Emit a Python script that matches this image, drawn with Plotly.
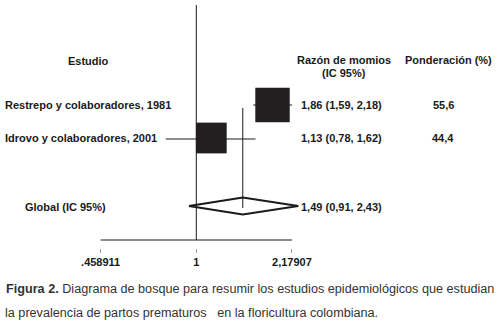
import plotly.graph_objects as go
import math

# ---- data ----
studies = ["Restrepo y colaboradores, 1981", "Idrovo y colaboradores, 2001"]
odds_ratio = [1.86, 1.13]
ci_low = [1.59, 0.78]
ci_high = [2.18, 1.62]
weights = [55.6, 44.4]
overall_label = "Global (IC 95%)"
# printed pooled estimate
overall_text = "1,49 (0,91, 2,43)"
# pooled diamond as drawn in the figure
overall_low = 0.942
overall_or = 1.46
overall_high = 2.295
tick_vals = [0.458911, 1, 2.17907]
tick_text = [".458911", "1", "2,17907"]
caption1 = "<b>Figura 2.</b> Diagrama de bosque para resumir los estudios epidemiológicos que estudian"
caption2 = "la prevalencia de partos prematuros&nbsp;&nbsp; en la floricultura colombiana."

W, H = 499, 327
PLOT_H = 248  # plot area height in px (y data units = px from top)
row_y = [105, 139]
overall_y = 206

def fmt(v):
    return f"{v:.2f}".replace(".", ",")

def fmtw(v):
    return f"{v:.1f}".replace(".", ",")

FONT = "Liberation Sans, Arial, Helvetica, sans-serif"
BLACK = "#1a1a1a"

fig = go.Figure()

line_style = dict(color=BLACK, width=1)

# null line
fig.add_trace(go.Scatter(x=[1, 1], y=[5, 240], mode="lines", line=line_style, hoverinfo="skip"))
# axis baseline
fig.add_trace(go.Scatter(x=[tick_vals[0], tick_vals[-1]], y=[240, 240], mode="lines", line=line_style, hoverinfo="skip"))
# overall vertical line
fig.add_trace(go.Scatter(x=[overall_or, overall_or], y=[108, 208], mode="lines", line=line_style, hoverinfo="skip"))

# CI lines
for lo, hi, y in zip(ci_low, ci_high, row_y):
    fig.add_trace(go.Scatter(x=[lo, hi], y=[y, y], mode="lines", line=line_style, hoverinfo="skip"))

# study squares
fig.add_trace(go.Scatter(
    x=odds_ratio, y=[y - 1 if i == 1 else y for i, y in enumerate(row_y)], mode="markers",
    marker=dict(symbol="square", size=[4.62 * math.sqrt(w) for w in weights],
                color="#231f20", opacity=1, line=dict(width=0)),
    hoverinfo="skip"))

# overall diamond
fig.add_trace(go.Scatter(
    x=[overall_low, overall_or, overall_high, overall_or, overall_low],
    y=[overall_y, overall_y - 8.5, overall_y, overall_y + 8.5, overall_y],
    mode="lines", line=dict(color=BLACK, width=2), hoverinfo="skip"))

# ---- layout ----
k = 191.3 / (2 * math.log10(tick_vals[-1]))  # px per decade
r0 = -196.3 / k
r1 = r0 + W / k

def px(x):
    return x / W

def py(y):
    return (PLOT_H - y) / PLOT_H

ann = []
def add(text, x, y, anchor="left", size=11, bold=True, color=BLACK):
    ann.append(dict(text=text, x=px(x), y=py(y), xref="paper", yref="paper",
                    xanchor=anchor, yanchor="middle", showarrow=False,
                    font=dict(family=FONT, size=size, color=color,
                              weight="bold" if bold else "normal")))

add("Estudio", 88, 61, "center")
add("Razón de momios", 344, 60, "center")
add("(IC 95%)", 344, 73, "center")
add("Ponderación (%)", 448, 60, "center")
for s, o, lo, hi, w, y in zip(studies, odds_ratio, ci_low, ci_high, weights, row_y):
    yy = y if y != row_y[1] else 138
    add(s, 3, yy, "left")
    add(f"{fmt(o)} ({fmt(lo)}, {fmt(hi)})", 299, yy, "left")
    add(fmtw(w), 443, yy, "center")
add(overall_label, 23, overall_y + 1, "left")
add(overall_text, 299, overall_y + 1, "left")

add(caption1, 4, 289, "left", size=12.65, bold=False, color="#333333")
add(caption2, 3, 313, "left", size=12.65, bold=False, color="#333333")

fig.update_layout(
    width=W, height=H,
    margin=dict(l=0, r=0, t=0, b=H - PLOT_H),
    paper_bgcolor="white", plot_bgcolor="white",
    showlegend=False,
    annotations=ann,
    xaxis=dict(type="log", range=[r0, r1], showgrid=False, zeroline=False, showline=False,
               tickvals=tick_vals, ticktext=tick_text, ticks="outside", ticklen=4,
               tickcolor="#999999", tickwidth=1,
               tickfont=dict(family=FONT, size=11, color=BLACK, weight="bold"),
               fixedrange=True),
    yaxis=dict(range=[PLOT_H, 0], visible=False, fixedrange=True),
)

fig.write_html("out.html", config={"displayModeBar": False},
               post_script="document.body.style.margin='0';document.body.style.padding='0';document.body.style.overflow='hidden';")
